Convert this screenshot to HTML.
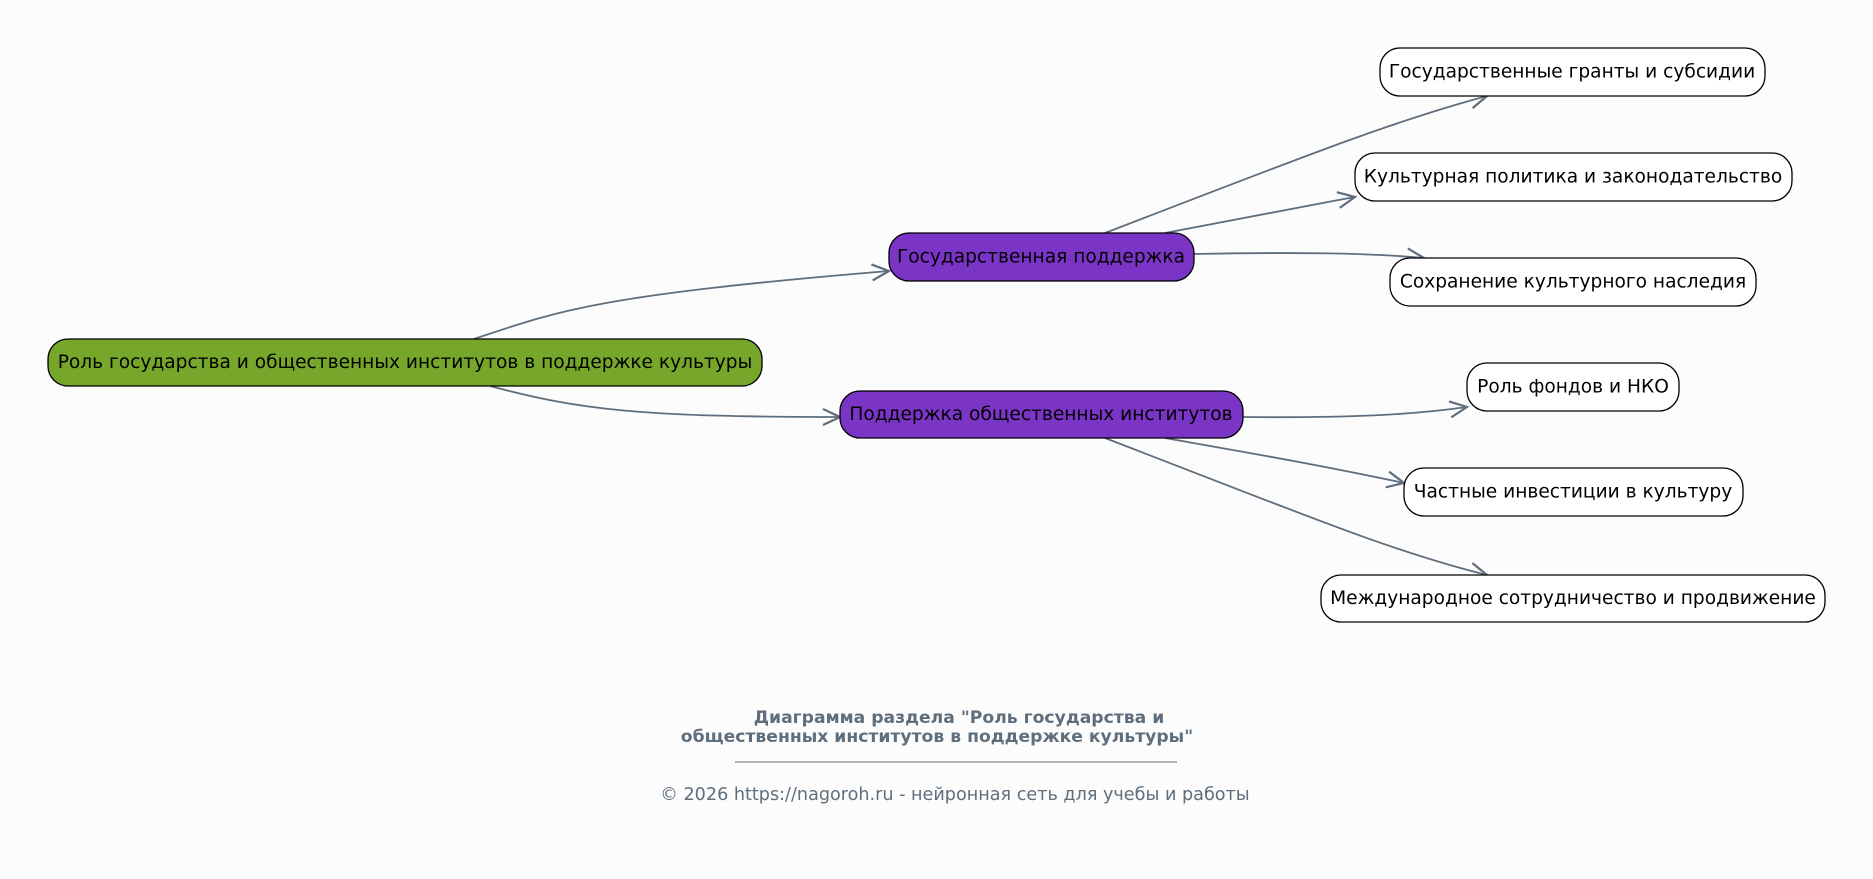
<!DOCTYPE html>
<html><head><meta charset="utf-8"><style>
body{margin:0;background:#fcfcfc;}
svg{display:block}
text{font-family:"DejaVu Sans","Liberation Sans",sans-serif;}
</style></head><body>
<svg width="1873" height="879" viewBox="0 0 1873 879" xmlns="http://www.w3.org/2000/svg">
<defs><marker id="a" markerWidth="22" markerHeight="18" refX="19" refY="9" orient="auto" markerUnits="userSpaceOnUse"><path d="M2,1 L19,9 L2,17" fill="none" stroke="#5f6e7d" stroke-width="2.2"/></marker></defs>
<rect width="1873" height="879" fill="#fcfcfc"/>
<g fill="none" stroke="#5f6e7d" stroke-width="1.8" marker-end="url(#a)">
<path d="M474,339 C560,310 600,295 889,271"/>
<path d="M490,386 C580,410 640,417 840,417"/>
<path d="M1105,233 C1300,158 1390,122 1487,96"/>
<path d="M1165,233 C1250,217 1300,207 1355,197"/>
<path d="M1194,254 C1300,252 1370,253 1424,258"/>
<path d="M1243,417 C1350,418 1410,415 1467,407"/>
<path d="M1165,438 C1250,453 1320,465 1404,483"/>
<path d="M1105,438 C1300,513 1390,551 1487,575"/>
</g>
<g stroke="#000" stroke-width="1.3">
<rect x="48" y="339" width="714" height="47" rx="20" fill="#76a72a"/>
<rect x="889" y="233" width="305" height="48" rx="20" fill="#7b35c6"/>
<rect x="840" y="391" width="403" height="47" rx="20" fill="#7b35c6"/>
<g fill="#fff">
<rect x="1380" y="48" width="385" height="48" rx="20"/>
<rect x="1355" y="153" width="437" height="48" rx="20"/>
<rect x="1390" y="258" width="366" height="48" rx="20"/>
<rect x="1467" y="363" width="212" height="48" rx="20"/>
<rect x="1404" y="468" width="339" height="48" rx="20"/>
<rect x="1321" y="575" width="504" height="47" rx="20"/>
</g></g>
<g font-size="18.6" fill="#000" text-anchor="middle" dominant-baseline="central">
<text x="405" y="362.5">Роль государства и общественных институтов в поддержке культуры</text>
<text x="1041" y="257">Государственная поддержка</text>
<text x="1041" y="414.5">Поддержка общественных институтов</text>
<text x="1572" y="72">Государственные гранты и субсидии</text>
<text x="1573" y="177">Культурная политика и законодательство</text>
<text x="1573" y="282">Сохранение культурного наследия</text>
<text x="1573" y="387">Роль фондов и НКО</text>
<text x="1573" y="492">Частные инвестиции в культуру</text>
<text x="1573" y="598.5">Международное сотрудничество и продвижение</text>
</g>
<g fill="#5f6e7d" text-anchor="middle">
<text x="959" y="723" font-size="17.2" font-weight="bold">Диаграмма раздела "Роль государства и</text>
<text x="937" y="742" font-size="17.2" font-weight="bold">общественных институтов в поддержке культуры"</text>
<line x1="735" y1="762" x2="1177" y2="762" stroke="#5f6e7d" stroke-width="1"/>
<text x="955" y="800" font-size="17.6">© 2026 https://nagoroh.ru - нейронная сеть для учебы и работы</text>
</g>
</svg>
</body></html>
